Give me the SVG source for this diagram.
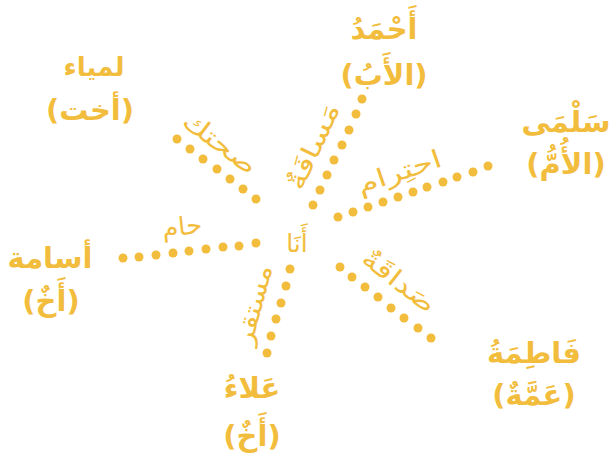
<svg xmlns="http://www.w3.org/2000/svg" width="612" height="461" viewBox="0 0 612 461">
<style>
.name{font-family:"DejaVu Sans",sans-serif;font-weight:bold;font-size:29px;fill:#F2BD3D;text-anchor:middle}
.lbl{font-family:"DejaVu Sans",sans-serif;font-size:25px;fill:#F2BD3D;text-anchor:middle}
.dot{fill:#F2BD3D}
</style>
<rect width="612" height="461" fill="#ffffff"/>
<g id="connectors">
  <g id="line-ahmad">
    <circle class="dot" cx="362" cy="99" r="4.5"/><circle class="dot" cx="356" cy="114" r="4.5"/><circle class="dot" cx="349" cy="130" r="4.5"/><circle class="dot" cx="342" cy="145" r="4.5"/><circle class="dot" cx="334" cy="160" r="4.5"/><circle class="dot" cx="327" cy="175" r="4.5"/><circle class="dot" cx="320" cy="190" r="4.5"/><circle class="dot" cx="313" cy="205" r="4.5"/>
    <text class="lbl" direction="rtl" transform="translate(321,150) rotate(-65)" textLength="92" lengthAdjust="spacingAndGlyphs">مَسافَةٌ</text>
  </g>
  <g id="line-lamya">
    <circle class="dot" cx="177" cy="139" r="4.5"/><circle class="dot" cx="190" cy="149" r="4.5"/><circle class="dot" cx="203" cy="159" r="4.5"/><circle class="dot" cx="217" cy="169" r="4.5"/><circle class="dot" cx="230" cy="179" r="4.5"/><circle class="dot" cx="243" cy="189" r="4.5"/><circle class="dot" cx="256" cy="199" r="4.5"/>
    <text class="lbl" direction="rtl" transform="translate(215,150) rotate(37)" textLength="86" lengthAdjust="spacingAndGlyphs">صحتك</text>
  </g>
  <g id="line-salma">
    <circle class="dot" cx="338" cy="217" r="4.5"/><circle class="dot" cx="353" cy="212" r="4.5"/><circle class="dot" cx="368" cy="207" r="4.5"/><circle class="dot" cx="383" cy="202" r="4.5"/><circle class="dot" cx="398" cy="197" r="4.5"/><circle class="dot" cx="413" cy="192" r="4.5"/><circle class="dot" cx="427" cy="187" r="4.5"/><circle class="dot" cx="443" cy="182" r="4.5"/><circle class="dot" cx="457" cy="177" r="4.5"/><circle class="dot" cx="473" cy="172" r="4.5"/><circle class="dot" cx="488" cy="166" r="4.5"/>
    <text class="lbl" direction="rtl" transform="translate(402,180) rotate(-19)" textLength="88" lengthAdjust="spacingAndGlyphs">احتِرام</text>
  </g>
  <g id="line-osama">
    <circle class="dot" cx="123" cy="258" r="4.5"/><circle class="dot" cx="139" cy="257" r="4.5"/><circle class="dot" cx="156" cy="255" r="4.5"/><circle class="dot" cx="173" cy="253" r="4.5"/><circle class="dot" cx="189" cy="251" r="4.5"/><circle class="dot" cx="206" cy="249" r="4.5"/><circle class="dot" cx="223" cy="247" r="4.5"/><circle class="dot" cx="239" cy="246" r="4.5"/><circle class="dot" cx="256" cy="243" r="4.5"/>
    <text class="lbl" direction="rtl" transform="translate(183,235) rotate(-6)" textLength="40" lengthAdjust="spacingAndGlyphs">حام</text>
  </g>
  <g id="line-alaa">
    <circle class="dot" cx="290" cy="269" r="4.5"/><circle class="dot" cx="286" cy="286" r="4.5"/><circle class="dot" cx="281" cy="303" r="4.5"/><circle class="dot" cx="276" cy="319" r="4.5"/><circle class="dot" cx="271" cy="336" r="4.5"/><circle class="dot" cx="267" cy="353" r="4.5"/>
    <text class="lbl" direction="rtl" transform="translate(262,307) rotate(-75)" textLength="82" lengthAdjust="spacingAndGlyphs">مستقر</text>
  </g>
  <g id="line-fatima">
    <circle class="dot" cx="340" cy="267" r="4.5"/><circle class="dot" cx="352" cy="277" r="4.5"/><circle class="dot" cx="365" cy="287" r="4.5"/><circle class="dot" cx="378" cy="297" r="4.5"/><circle class="dot" cx="391" cy="308" r="4.5"/><circle class="dot" cx="404" cy="318" r="4.5"/><circle class="dot" cx="418" cy="328" r="4.5"/><circle class="dot" cx="431" cy="338" r="4.5"/>
    <text class="lbl" direction="rtl" transform="translate(394,288) rotate(38)" textLength="86" lengthAdjust="spacingAndGlyphs">صَداقَةٌ</text>
  </g>
</g>
<g id="me"><text class="lbl" direction="rtl" x="297" y="252">أَنَا</text></g>
<g id="ahmad"><text class="name" direction="rtl" x="384" y="39">أَحْمَدُ</text><text class="name" direction="rtl" x="384" y="85">(الأَبُ)</text></g>
<g id="lamya"><text class="name" direction="rtl" x="94" y="76" style="font-size:26px">لمياء</text><text class="name" direction="rtl" x="90" y="120">(أخت)</text></g>
<g id="salma"><text class="name" direction="rtl" x="566" y="132">سَلْمَى</text><text class="name" direction="rtl" x="566" y="174">(الأُمُّ)</text></g>
<g id="osama"><text class="name" direction="rtl" x="50" y="268">أسامة</text><text class="name" direction="rtl" x="51" y="311">(أَخٌ)</text></g>
<g id="fatima"><text class="name" direction="rtl" x="534" y="363">فَاطِمَةُ</text><text class="name" direction="rtl" x="534" y="405">(عَمَّةٌ)</text></g>
<g id="alaa"><text class="name" direction="rtl" x="252" y="398">عَلاءُ</text><text class="name" direction="rtl" x="252" y="446">(أَخٌ)</text></g>
</svg>
